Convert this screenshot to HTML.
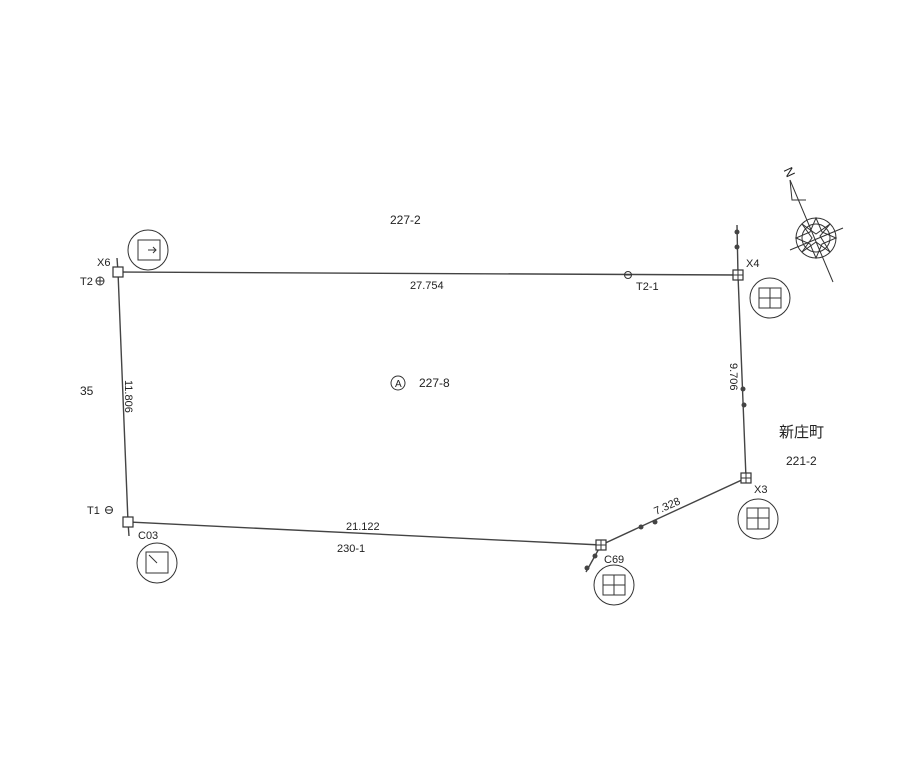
<!DOCTYPE html>
<html><head><meta charset="utf-8"><style>
body{margin:0;background:#fff;width:924px;height:774px;overflow:hidden}
svg{display:block}
text{font-family:"Liberation Sans","Noto Sans CJK JP",sans-serif;fill:#222}
</style></head><body>
<svg width="924" height="774" viewBox="0 0 924 774" xmlns="http://www.w3.org/2000/svg">
<g stroke="#444" stroke-width="1.4" fill="none">
<polyline points="118,272 738,275 746,478 601,545 128,522 118,272"/>
<line x1="117" y1="258" x2="118" y2="272"/>
<line x1="128" y1="522" x2="129" y2="536"/>
<line x1="737" y1="225" x2="738" y2="275"/>
<line x1="601" y1="545" x2="586" y2="572"/>
</g>
<g fill="#444">
<circle cx="737" cy="232" r="2.5"/><circle cx="737" cy="247" r="2.5"/>
<circle cx="743" cy="389" r="2.5"/><circle cx="744" cy="405" r="2.5"/>
<circle cx="641" cy="527" r="2.5"/><circle cx="655" cy="522" r="2.5"/>
<circle cx="595" cy="556" r="2.5"/><circle cx="587" cy="568" r="2.5"/>
</g>
<g stroke="#333" stroke-width="1.2" fill="#fff">
<rect x="113" y="267" width="10" height="10"/>
<rect x="123" y="517" width="10" height="10"/>
<rect x="733" y="270" width="10" height="10"/>
<rect x="741" y="473" width="10" height="10"/>
<rect x="596" y="540" width="10" height="10"/>
</g>
<g stroke="#333" stroke-width="1" fill="none">
<line x1="738" y1="270" x2="738" y2="280"/><line x1="733" y1="275" x2="743" y2="275"/>
<line x1="746" y1="473" x2="746" y2="483"/><line x1="741" y1="478" x2="751" y2="478"/>
<line x1="601" y1="540" x2="601" y2="550"/><line x1="596" y1="545" x2="606" y2="545"/>
<circle cx="628" cy="275" r="3.5"/><line x1="624" y1="275" x2="632" y2="275"/>
<circle cx="100" cy="281" r="4"/><line x1="96" y1="281" x2="104" y2="281"/><line x1="100" y1="277" x2="100" y2="285"/>
<circle cx="109" cy="510" r="3.5"/><line x1="105" y1="510" x2="113" y2="510"/>
<circle cx="148" cy="250" r="20"/><rect x="138" y="240" width="22" height="20"/>
<line x1="148" y1="250" x2="156" y2="250"/><path d="M153,247 L156,250 L153,253"/>
<circle cx="157" cy="563" r="20"/><rect x="146" y="552" width="22" height="21"/>
<line x1="149" y1="555" x2="157" y2="563"/>
<circle cx="770" cy="298" r="20"/><rect x="759" y="288" width="22" height="20"/>
<line x1="770" y1="288" x2="770" y2="308"/><line x1="759" y1="298" x2="781" y2="298"/>
<circle cx="758" cy="519" r="20"/><rect x="747" y="508" width="22" height="21"/>
<line x1="758" y1="508" x2="758" y2="529"/><line x1="747" y1="518" x2="769" y2="518"/>
<circle cx="614" cy="585" r="20"/><rect x="603" y="575" width="22" height="20"/>
<line x1="614" y1="575" x2="614" y2="595"/><line x1="603" y1="585" x2="625" y2="585"/>
<circle cx="398" cy="383" r="7"/>
<line x1="790" y1="180" x2="833" y2="282"/>
<line x1="790" y1="250" x2="843" y2="228"/>
<path d="M790,180 L792,200 L806,200"/>
<circle cx="816" cy="238" r="20"/>
<circle cx="816" cy="238" r="14"/>
<path d="M816,218 L822,232 L836,238 L822,244 L816,258 L810,244 L796,238 L810,232 Z"/>
<path d="M830,224 L820,236 L830,252 L816,242 L802,252 L812,238 L802,224 L816,234 Z"/>
</g>
<text x="787" y="172" font-size="13" transform="rotate(65 787 168)">N</text>
<g font-size="12">
<text x="390" y="224">227-2</text>
<text x="410" y="289" font-size="11">27.754</text>
<text x="636" y="290" font-size="11">T2-1</text>
<text x="746" y="267" font-size="11">X4</text>
<text x="395" y="387" font-size="10">A</text>
<text x="419" y="387">227-8</text>
<text x="80" y="395">35</text>
<text x="125" y="380" font-size="11" transform="rotate(90 125 380)">11.806</text>
<text x="730" y="363" font-size="11" transform="rotate(90 730 363)">9.706</text>
<text x="779" y="437" font-size="15">新庄町</text>
<text x="786" y="465">221-2</text>
<text x="754" y="493" font-size="11">X3</text>
<text x="656" y="515" font-size="11" transform="rotate(-24 656 515)">7.328</text>
<text x="346" y="530" font-size="11">21.122</text>
<text x="337" y="552" font-size="11">230-1</text>
<text x="604" y="563" font-size="11">C69</text>
<text x="138" y="539" font-size="11">C03</text>
<text x="87" y="514" font-size="11">T1</text>
<text x="80" y="285" font-size="11">T2</text>
<text x="97" y="266" font-size="11">X6</text>
</g>
</svg>
</body></html>
